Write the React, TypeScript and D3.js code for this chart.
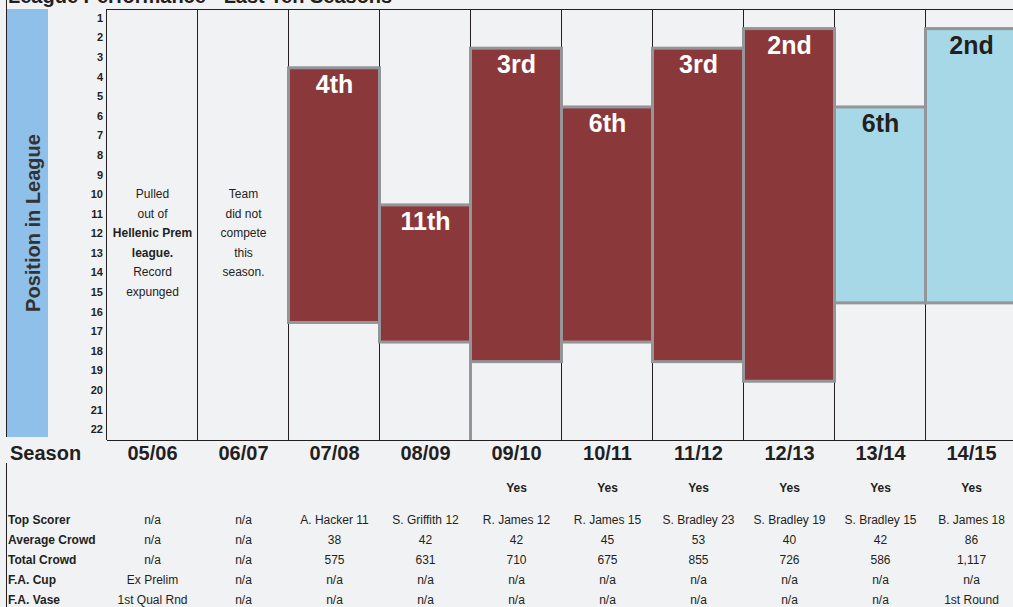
import React, { useEffect, useRef } from 'react';
import * as d3 from 'd3';

const seasons = ['05/06', '06/07', '07/08', '08/09', '09/10', '10/11', '11/12', '12/13', '13/14', '14/15'];
const finishPos = [null, null, 4, 11, 3, 6, 3, 2, 6, 2];
const leagueSize = [null, null, 16, 17, 18, 17, 18, 19, 15, 15];
const finishLabels = ['', '', '4th', '11th', '3rd', '6th', '3rd', '2nd', '6th', '2nd'];
const division = ['', '', 'A', 'A', 'A', 'A', 'A', 'A', 'B', 'B'];
const positionTicks = d3.range(1, 23);

const notes05 = ['Pulled', 'out of', 'Hellenic Prem', 'league.', 'Record', 'expunged'];
const notes05Bold = [false, false, true, true, false, false];
const notes06 = ['Team', 'did not', 'compete', 'this', 'season.'];

const yesRow = ['', '', '', '', 'Yes', 'Yes', 'Yes', 'Yes', 'Yes', 'Yes'];
const rowLabels = ['Top Scorer', 'Average Crowd', 'Total Crowd', 'F.A. Cup', 'F.A. Vase'];
const topScorer = ['n/a', 'n/a', 'A. Hacker 11', 'S. Griffith 12', 'R. James 12', 'R. James 15', 'S. Bradley 23', 'S. Bradley 19', 'S. Bradley 15', 'B. James 18'];
const avgCrowd = ['n/a', 'n/a', '38', '42', '42', '45', '53', '40', '42', '86'];
const totalCrowd = ['n/a', 'n/a', '575', '631', '710', '675', '855', '726', '586', '1,117'];
const faCup = ['Ex Prelim', 'n/a', 'n/a', 'n/a', 'n/a', 'n/a', 'n/a', 'n/a', 'n/a', 'n/a'];
const faVase = ['1st Qual Rnd', 'n/a', 'n/a', 'n/a', 'n/a', 'n/a', 'n/a', 'n/a', 'n/a', '1st Round'];
const tableRows = [topScorer, avgCrowd, totalCrowd, faCup, faVase];

const width = 1013;
const height = 607;
const font = "'Liberation Sans', Arial, sans-serif";
const ink = '#231f20';

function LeagueChart() {
  const ref = useRef<SVGSVGElement>(null);

  useEffect(() => {
    const svg = d3.select(ref.current);
    svg.selectAll('*').remove();

    const plotTop = 9;
    const plotBottom = 440;
    const x = d3.scaleBand().domain(seasons).range([107, 1017]);
    const y = d3.scaleLinear().domain([0.5, 22.5]).range([plotTop, plotBottom]);
    const cx = (s: string) => (x(s) as number) + x.bandwidth() / 2;

    svg.append('rect').attr('width', width).attr('height', height).attr('fill', '#f1f2f4');

    // title, cut off at the top like the source
    svg.append('text')
      .attr('x', 8).attr('y', 3)
      .attr('font-size', 20).attr('font-weight', 'bold').attr('fill', ink)
      .text('League Performance - Last Ten Seasons');

    // left border + blue axis-title strip
    svg.append('line').attr('x1', 6.5).attr('x2', 6.5).attr('y1', 0).attr('y2', 437)
      .attr('stroke', ink);
    svg.append('line').attr('x1', 6.5).attr('x2', 6.5).attr('y1', 463).attr('y2', height)
      .attr('stroke', ink);
    svg.append('rect')
      .attr('x', 7).attr('y', plotTop).attr('width', 41).attr('height', 428)
      .attr('fill', '#8fc0e9');
    svg.append('text')
      .attr('transform', `translate(40,${(plotTop + 437) / 2}) rotate(-90)`)
      .attr('text-anchor', 'middle')
      .attr('font-size', 20).attr('font-weight', 'bold').attr('fill', '#333')
      .text('Position in League');

    // grid frame
    const xs = seasons.map(s => x(s) as number);
    svg.append('line').attr('x1', 107).attr('x2', width).attr('y1', plotTop + 0.5).attr('y2', plotTop + 0.5)
      .attr('stroke', ink);
    svg.append('line').attr('x1', 107).attr('x2', width).attr('y1', plotBottom + 0.5).attr('y2', plotBottom + 0.5)
      .attr('stroke', ink);
    svg.selectAll('.vgrid').data(xs).join('line')
      .attr('class', 'vgrid')
      .attr('x1', d => Math.round(d) - 0.5).attr('x2', d => Math.round(d) - 0.5)
      .attr('y1', plotTop).attr('y2', plotBottom)
      .attr('stroke', ink);

    // position ticks
    svg.selectAll('.tick').data(positionTicks).join('text')
      .attr('class', 'tick')
      .attr('x', 103).attr('y', d => y(d) + 3)
      .attr('text-anchor', 'end')
      .attr('font-size', 11).attr('font-weight', 'bold').attr('fill', ink)
      .text(d => d);

    // floating bars: finishing place to bottom of league
    const bars = seasons.map((s, i) => ({ s, pos: finishPos[i], size: leagueSize[i], label: finishLabels[i], div: division[i] }))
      .filter(d => d.pos !== null);

    // the source has a grey edge running down below the 09/10 bar
    const odd = bars.filter(d => d.s === '09/10');
    svg.selectAll('.edge').data(odd).join('line')
      .attr('class', 'edge')
      .attr('x1', d => (x(d.s) as number) - 0.5).attr('x2', d => (x(d.s) as number) - 0.5)
      .attr('y1', d => y((d.size as number) + 0.5)).attr('y2', plotBottom)
      .attr('stroke', '#939598').attr('stroke-width', 3);

    svg.selectAll('.bar').data(bars).join('rect')
      .attr('class', 'bar')
      .attr('x', d => (x(d.s) as number) - 0.5)
      .attr('width', x.bandwidth())
      .attr('y', d => y((d.pos as number) - 0.5))
      .attr('height', d => y((d.size as number) + 0.5) - y((d.pos as number) - 0.5))
      .attr('fill', d => d.div === 'A' ? '#8b383b' : '#a6d8e7')
      .attr('stroke', '#939598')
      .attr('stroke-width', 3);

    svg.selectAll('.barlabel').data(bars).join('text')
      .attr('class', 'barlabel')
      .attr('x', d => cx(d.s))
      .attr('y', d => y((d.pos as number) - 0.5) + 25)
      .attr('text-anchor', 'middle')
      .attr('font-size', 25).attr('font-weight', 'bold')
      .attr('fill', d => d.div === 'A' ? '#ffffff' : ink)
      .text(d => d.label);

    // notes in the empty seasons
    svg.selectAll('.note05').data(notes05).join('text')
      .attr('class', 'note05')
      .attr('x', cx(seasons[0])).attr('y', (d, i) => y(10 + i) + 3)
      .attr('text-anchor', 'middle')
      .attr('font-size', 12).attr('font-weight', (d, i) => notes05Bold[i] ? 'bold' : 'normal')
      .attr('fill', ink)
      .text(d => d);
    svg.selectAll('.note06').data(notes06).join('text')
      .attr('class', 'note06')
      .attr('x', cx(seasons[1])).attr('y', (d, i) => y(10 + i) + 3)
      .attr('text-anchor', 'middle')
      .attr('font-size', 12).attr('fill', ink)
      .text(d => d);

    // season row
    svg.append('text')
      .attr('x', 10).attr('y', 460)
      .attr('font-size', 20).attr('font-weight', 'bold').attr('fill', ink)
      .text('Season');
    svg.selectAll('.season').data(seasons).join('text')
      .attr('class', 'season')
      .attr('x', d => cx(d)).attr('y', 460)
      .attr('text-anchor', 'middle')
      .attr('font-size', 20).attr('font-weight', 'bold').attr('fill', ink)
      .text(d => d);

    svg.selectAll('.yes').data(yesRow).join('text')
      .attr('class', 'yes')
      .attr('x', (d, i) => cx(seasons[i])).attr('y', 492)
      .attr('text-anchor', 'middle')
      .attr('font-size', 12).attr('font-weight', 'bold').attr('fill', ink)
      .text(d => d);

    // stats table
    const rowY = d3.scalePoint().domain(rowLabels).range([524, 604]);
    svg.selectAll('.rowlabel').data(rowLabels).join('text')
      .attr('class', 'rowlabel')
      .attr('x', 8).attr('y', d => rowY(d) as number)
      .attr('font-size', 12).attr('font-weight', 'bold').attr('fill', ink)
      .text(d => d);

    tableRows.forEach((row, r) => {
      svg.selectAll(`.cell${r}`).data(row).join('text')
        .attr('class', `cell${r}`)
        .attr('x', (d, i) => cx(seasons[i]))
        .attr('y', rowY(rowLabels[r]) as number)
        .attr('text-anchor', 'middle')
        .attr('font-size', 12).attr('fill', ink)
        .text(d => d);
    });
  }, []);

  return (
    <svg ref={ref} width={width} height={height}
      style={{ position: 'absolute', left: 0, top: 0, fontFamily: font }} />
  );
}

export default function App() {
  return <LeagueChart />;
}
